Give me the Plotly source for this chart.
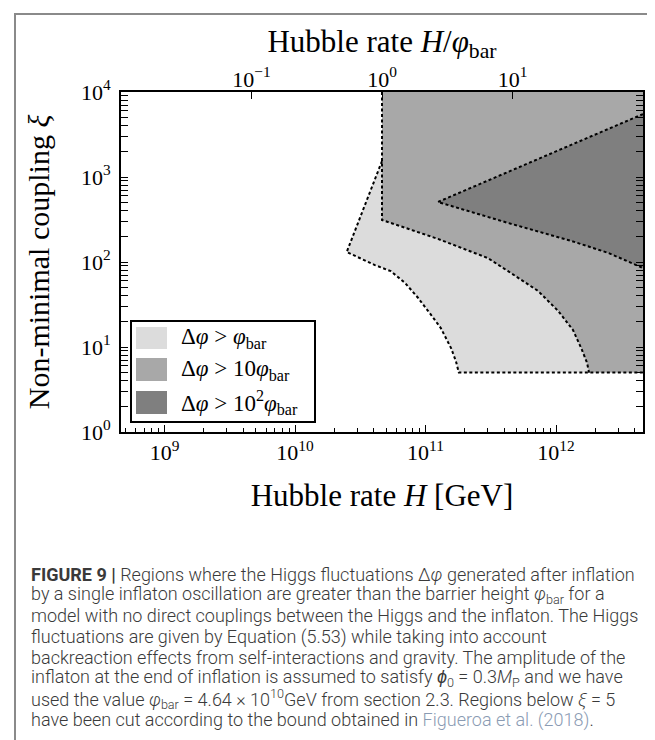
import plotly.graph_objects as go
import numpy as np

# ---------------- data ----------------
PHI_BAR = 4.64e10          # GeV
H_MIN, H_MAX = 4.64e8, 4.64e12
XI_MIN, XI_MAX = 1.0, 1.0e4
XI_CUT = 5.0

# boundary of region  Δφ > φ_bar   (H [GeV], ξ)
light_H = [4.64e10, 2.49e10, 4.09e10, 5.42e10, 6.95e10, 8.75e10, 1.10e11, 1.31e11, 1.57e11, 1.71e11, 1.80e11]
light_xi = [1540, 131, 92, 78, 57, 38, 24, 16.7, 9.7, 6.8, 5]
# boundary of region  Δφ > 10 φ_bar
mid_H = [4.64e10, 4.64e10, 1.245e11, 3.01e11, 4.29e11, 7.29e11, 1.04e12, 1.35e12, 1.56e12, 1.73e12, 1.79e12]
mid_xi = [1e4, 312, 187, 111, 78, 45.6, 26.5, 15.8, 9.7, 6.5, 5]
# boundary of region  Δφ > 10^2 φ_bar
dark_H = [4.64e12, 1.245e11, 4.29e11, 1.31e12, 2.51e12, 4.64e12]
dark_xi = [5500, 508, 288, 177, 128, 85]

x_tickvals = [1e9, 1e10, 1e11, 1e12]
x_ticktext = ["10<sup>9</sup>", "10<sup>10</sup>", "10<sup>11</sup>", "10<sup>12</sup>"]
x2_tickvals = [0.1, 1, 10]
x2_ticktext = ["10<sup>−1</sup>", "10<sup>0</sup>", "10<sup>1</sup>"]
y_tickvals = [1, 10, 100, 1000, 10000]
y_ticktext = ["10<sup>0</sup>", "10<sup>1</sup>", "10<sup>2</sup>", "10<sup>3</sup>", "10<sup>4</sup>"]

legend_labels = ["Δ<i>φ</i> > <i>φ</i><sub>bar</sub>",
                 "Δ<i>φ</i> > 10<i>φ</i><sub>bar</sub>",
                 "Δ<i>φ</i> > 10<sup>2</sup><i>φ</i><sub>bar</sub>"]
fill_colors = ["#dcdcdc", "#a8a8a8", "#7f7f7f"]

caption_lines = [
    "<b>FIGURE 9 |</b> Regions where the Higgs fluctuations Δ<i>φ</i> generated after inflation",
    "by a single inflaton oscillation are greater than the barrier height <i>φ</i><sub>bar</sub> for a",
    "model with no direct couplings between the Higgs and the inflaton. The Higgs",
    "fluctuations are given by Equation (5.53) while taking into account",
    "backreaction effects from self-interactions and gravity. The amplitude of the",
    "inflaton at the end of inflation is assumed to satisfy <i>ϕ</i><sub>0</sub> = 0.3<i>M</i><sub>P</sub> and we have",
    "used the value <i>φ</i><sub>bar</sub> = 4.64 × 10<sup>10</sup>GeV from section 2.3. Regions below <i>ξ</i> = 5",
    "have been cut according to the bound obtained in <span style='color:#8a9bb3'>Figueroa et al. (2018)</span>.",
]

# ---------------- figure ----------------
W, H = 655, 740
L, R, T, B = 113, 635, 84, 424     # plot area in pixels
def px(xp):  # pixel -> paper x
    return (xp - L) / (R - L)
def py(yp):  # pixel -> paper y
    return (B - yp) / (B - T)

SERIF = "Liberation Serif, DejaVu Serif, serif"
dotted = dict(color="black", width=2, dash="3px,2.5px")

fig = go.Figure()

# filled regions
fig.add_trace(go.Scatter(x=light_H + [H_MAX, H_MAX, PHI_BAR], y=light_xi + [XI_CUT, XI_MAX, XI_MAX],
                         fill="toself", fillcolor=fill_colors[0], line=dict(width=0),
                         mode="lines", hoverinfo="skip", showlegend=False))
fig.add_trace(go.Scatter(x=mid_H + [H_MAX, H_MAX], y=mid_xi + [XI_CUT, XI_MAX],
                         fill="toself", fillcolor=fill_colors[1], line=dict(width=0),
                         mode="lines", hoverinfo="skip", showlegend=False))
fig.add_trace(go.Scatter(x=dark_H, y=dark_xi,
                         fill="toself", fillcolor=fill_colors[2], line=dict(width=0),
                         mode="lines", hoverinfo="skip", showlegend=False))
# dotted boundaries
fig.add_trace(go.Scatter(x=light_H + [H_MAX], y=light_xi + [XI_CUT], mode="lines",
                         line=dotted, hoverinfo="skip", showlegend=False))
fig.add_trace(go.Scatter(x=mid_H, y=mid_xi, mode="lines",
                         line=dotted, hoverinfo="skip", showlegend=False))
fig.add_trace(go.Scatter(x=dark_H, y=dark_xi, mode="lines",
                         line=dotted, hoverinfo="skip", showlegend=False))
# dummy trace on the top axis (H / φ_bar)
fig.add_trace(go.Scatter(x=[H_MIN / PHI_BAR, H_MAX / PHI_BAR], y=[XI_MIN, XI_MIN], xaxis="x2",
                         mode="lines", line=dict(width=0), hoverinfo="skip", showlegend=False))

tickfont = dict(family=SERIF, size=22, color="black")
titlefont = dict(family=SERIF, size=31, color="black")
fig.update_layout(
    width=W, height=H,
    margin=dict(l=L, r=W - R, t=T, b=H - B, pad=0),
    paper_bgcolor="white", plot_bgcolor="white",
    showlegend=False,
    xaxis=dict(type="log", range=[np.log10(H_MIN), np.log10(H_MAX)],
               tickmode="array", tickvals=x_tickvals, ticktext=x_ticktext,
               ticks="inside", ticklen=7, tickwidth=1, tickcolor="black",
               minor=dict(ticks="inside", ticklen=4, tickwidth=1, tickcolor="black", dtick="D1", showgrid=False),
               showline=True, linewidth=2, linecolor="black", mirror=True,
               showgrid=False, zeroline=False, tickfont=tickfont,
               title=dict(text="Hubble rate <i>H</i> [GeV]", font=titlefont, standoff=20)),
    xaxis2=dict(type="log", overlaying="x", side="top",
                range=[np.log10(H_MIN / PHI_BAR), np.log10(H_MAX / PHI_BAR)],
                tickmode="array", tickvals=x2_tickvals, ticktext=x2_ticktext,
                ticks="inside", ticklen=7, tickwidth=1, tickcolor="black",
                showline=False, showgrid=False, zeroline=False, tickfont=tickfont,
                title=dict(text="Hubble rate <i>H</i>/<i>φ</i><sub>bar</sub>", font=titlefont, standoff=0)),
    yaxis=dict(type="log", range=[0, 4],
               tickmode="array", tickvals=y_tickvals, ticktext=y_ticktext,
               ticks="inside", ticklen=7, tickwidth=1, tickcolor="black",
               minor=dict(ticks="inside", ticklen=4, tickwidth=1, tickcolor="black", dtick="D1", showgrid=False),
               showline=True, linewidth=2, linecolor="black", mirror="allticks",
               showgrid=False, zeroline=False, tickfont=tickfont, ticklabelstandoff=4,
               title=dict(text="Non-minimal coupling <i>ξ</i>", font=dict(family=SERIF, size=30, color="black"), standoff=22)),
)

shapes = []
# outer frame (left and top edges of the figure panel)
shapes.append(dict(type="line", xref="paper", yref="paper", x0=px(7), x1=px(7), y0=py(6), y1=py(745),
                   line=dict(color="#8a8a8a", width=2)))
shapes.append(dict(type="line", xref="paper", yref="paper", x0=px(6), x1=px(660), y0=py(6), y1=py(6),
                   line=dict(color="#8a8a8a", width=2)))
# legend box
shapes.append(dict(type="rect", xref="paper", yref="paper", x0=px(123), x1=px(307), y0=py(414), y1=py(313),
                   line=dict(color="black", width=2), fillcolor="white"))
rows = [(319, 341), (350, 373), (383, 406)]
for (y0, y1), c in zip(rows, fill_colors):
    shapes.append(dict(type="rect", xref="paper", yref="paper", x0=px(128), x1=px(159), y0=py(y1), y1=py(y0),
                       line=dict(width=0), fillcolor=c))
fig.update_layout(shapes=shapes)

annotations = []
for (y0, y1), lab in zip(rows, legend_labels):
    annotations.append(dict(xref="paper", yref="paper", x=px(171), y=py((y0 + y1) / 2), text=lab,
                            showarrow=False, xanchor="left", yanchor="middle",
                            font=dict(family=SERIF, size=23, color="black")))
for i, line in enumerate(caption_lines):
    annotations.append(dict(xref="paper", yref="paper", x=px(21), y=py(566 + 20.86 * i), text=line,
                            showarrow=False, xanchor="left", yanchor="middle",
                            font=dict(family="Roboto, Liberation Sans, sans-serif", size=18, color="#3a3a3a", weight=300)))
fig.update_layout(annotations=annotations)

fig.write_html("out.html")
